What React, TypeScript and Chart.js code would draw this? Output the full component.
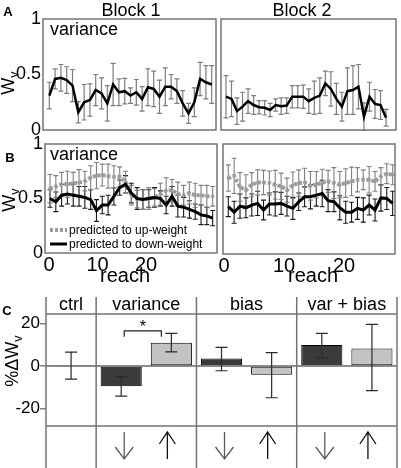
import React, { useEffect, useRef } from 'react';
import { Chart, registerables } from 'chart.js';

Chart.register(...registerables);

const FONT = "Arial, 'Liberation Sans', Helvetica, sans-serif";
const W = 401;
const H = 468;

// ---------- Panel A: variance, W_v per reach ----------
const A1_MEAN = [0.31, 0.46, 0.47, 0.45, 0.40, 0.16, 0.25, 0.27, 0.36, 0.33, 0.24, 0.41, 0.34, 0.35, 0.31, 0.34, 0.28, 0.385, 0.37, 0.30, 0.39, 0.39, 0.35, 0.24, 0.15, 0.25, 0.46, 0.43, 0.41];
const A1_ERR = [0.12, 0.09, 0.12, 0.12, 0.145, 0.095, 0.16, 0.145, 0.14, 0.14, 0.16, 0.19, 0.12, 0.115, 0.07, 0.115, 0.11, 0.165, 0.16, 0.15, 0.17, 0.11, 0.11, 0.115, 0.09, 0.13, 0.15, 0.15, 0.17];
const A2_MEAN = [0.30, 0.28, 0.17, 0.21, 0.26, 0.225, 0.205, 0.20, 0.18, 0.225, 0.215, 0.22, 0.30, 0.30, 0.30, 0.26, 0.29, 0.31, 0.42, 0.37, 0.28, 0.21, 0.35, 0.36, 0.39, 0.12, 0.30, 0.235, 0.225, 0.11];
const A2_ERR = [0.19, 0.16, 0.12, 0.13, 0.11, 0.085, 0.06, 0.065, 0.06, 0.055, 0.075, 0.07, 0.10, 0.10, 0.105, 0.11, 0.15, 0.16, 0.11, 0.155, 0.14, 0.13, 0.21, 0.22, 0.20, 0.125, 0.13, 0.13, 0.13, 0.075];

// ---------- Panel B: predicted up/down weight ----------
const B1_DOWN_MEAN = [0.50, 0.47, 0.53, 0.54, 0.53, 0.52, 0.51, 0.49, 0.39, 0.44, 0.44, 0.52, 0.60, 0.63, 0.55, 0.50, 0.49, 0.50, 0.51, 0.50, 0.44, 0.52, 0.43, 0.42, 0.40, 0.38, 0.35, 0.34, 0.32];
const B1_DOWN_ERR = [0.08, 0.09, 0.10, 0.09, 0.10, 0.09, 0.10, 0.09, 0.10, 0.08, 0.09, 0.08, 0.07, 0.08, 0.09, 0.10, 0.09, 0.08, 0.09, 0.07, 0.08, 0.09, 0.10, 0.09, 0.08, 0.07, 0.09, 0.08, 0.07];
const B1_UP_MEAN = [0.59, 0.61, 0.63, 0.63, 0.64, 0.645, 0.66, 0.69, 0.71, 0.715, 0.705, 0.70, 0.70, 0.65, 0.53, 0.495, 0.49, 0.50, 0.51, 0.54, 0.57, 0.575, 0.54, 0.53, 0.55, 0.53, 0.53, 0.52, 0.52];
const B1_UP_ERR = [0.13, 0.10, 0.11, 0.12, 0.10, 0.12, 0.09, 0.11, 0.12, 0.10, 0.11, 0.10, 0.09, 0.10, 0.09, 0.08, 0.09, 0.10, 0.08, 0.10, 0.12, 0.10, 0.11, 0.09, 0.10, 0.11, 0.09, 0.10, 0.09];
const B2_DOWN_MEAN = [0.43, 0.38, 0.435, 0.42, 0.445, 0.46, 0.40, 0.455, 0.455, 0.46, 0.435, 0.415, 0.475, 0.52, 0.52, 0.535, 0.55, 0.485, 0.475, 0.42, 0.38, 0.38, 0.415, 0.40, 0.445, 0.40, 0.51, 0.505, 0.46];
const B2_DOWN_ERR = [0.09, 0.10, 0.11, 0.09, 0.10, 0.11, 0.09, 0.10, 0.11, 0.10, 0.09, 0.10, 0.08, 0.09, 0.11, 0.10, 0.12, 0.10, 0.09, 0.11, 0.10, 0.09, 0.10, 0.11, 0.09, 0.10, 0.12, 0.10, 0.11];
const B2_UP_MEAN = [0.69, 0.71, 0.61, 0.58, 0.63, 0.65, 0.65, 0.645, 0.63, 0.615, 0.58, 0.625, 0.645, 0.65, 0.62, 0.63, 0.65, 0.66, 0.645, 0.63, 0.645, 0.66, 0.675, 0.675, 0.675, 0.66, 0.705, 0.73, 0.72];
const B2_UP_ERR = [0.12, 0.16, 0.13, 0.14, 0.11, 0.115, 0.11, 0.11, 0.13, 0.12, 0.11, 0.12, 0.12, 0.13, 0.13, 0.12, 0.12, 0.10, 0.14, 0.12, 0.13, 0.13, 0.11, 0.09, 0.12, 0.09, 0.08, 0.09, 0.09];

const W_TICKS = [0, 0.5, 1];
const REACH_TICKS = [0, 10, 20];
const LEGEND_UP = 'predicted to up-weight';
const LEGEND_DOWN = 'predicted to down-weight';

// ---------- Panel C: %ΔW_v ----------
const C_CATEGORIES = ['ctrl', 'variance down', 'variance up', 'bias down', 'bias up', 'var + bias down', 'var + bias up'];
const C_VALUES = [0.5, -9.5, 11.0, 3.6, -4.1, 9.9, 8.3];
const C_ERR_LOW = [-6.1, -14.1, 6.7, -2.2, -14.9, 3.9, -11.6];
const C_ERR_HIGH = [6.6, -5.0, 15.4, 8.8, 6.3, 15.4, 19.6];
const C_SHADE = ['dark', 'dark', 'light', 'dark', 'light', 'dark', 'light'];
const C_GROUPS = ['ctrl', 'variance', 'bias', 'var + bias'];
const C_GROUP_SPANS = [[0, 0], [1, 2], [3, 4], [5, 6]];
const C_ARROWS = ['', 'down', 'up', 'down', 'up', 'down', 'up'];
const C_Y_TICKS = [-20, 0, 20];
const C_SIG_PAIR = [1, 2];

const DARK = '#3b3b3b';
const LIGHT = '#c3c3c3';
const FRAME = '#747474';

// ---------- plugins ----------
const errorBarPlugin = {
  id: 'errbars',
  draw(chart: any) {
    const ctx = chart.ctx;
    const ca = chart.chartArea;
    chart.data.datasets.forEach((ds: any, i: number) => {
      if (!ds.errLow) return;
      const meta = chart.getDatasetMeta(i);
      const ys = chart.scales[meta.yAxisID];
      ctx.save();
      ctx.beginPath();
      ctx.rect(ca.left, ca.top - 1, ca.right - ca.left, ca.bottom - ca.top + 2);
      if (ds.errClip) ctx.clip();
      ctx.strokeStyle = ds.errColor;
      ctx.lineWidth = ds.errWidth;
      const cap = ds.errCap;
      meta.data.forEach((el: any, j: number) => {
        const lo = ds.errLow[j];
        const hi = ds.errHigh[j];
        if (lo == null || hi == null) return;
        const x = el.x;
        const y1 = ys.getPixelForValue(lo);
        const y2 = ys.getPixelForValue(hi);
        ctx.beginPath();
        ctx.moveTo(x, y1);
        ctx.lineTo(x, y2);
        ctx.moveTo(x - cap, y1);
        ctx.lineTo(x + cap, y1);
        ctx.moveTo(x - cap, y2);
        ctx.lineTo(x + cap, y2);
        ctx.stroke();
      });
      ctx.restore();
    });
  },
  beforeDatasetsDraw(chart: any, _a: any, opts: any) {
    if (opts && opts.phase === 'after') return;
    errorBarPlugin.draw(chart);
  },
  afterDatasetsDraw(chart: any, _a: any, opts: any) {
    if (!opts || opts.phase !== 'after') return;
    errorBarPlugin.draw(chart);
  },
};

const framePlugin = {
  id: 'frame',
  afterDraw(chart: any, _a: any, opts: any) {
    if (!opts || !opts.show) return;
    const { ctx, chartArea: ca } = chart;
    ctx.save();
    ctx.strokeStyle = FRAME;
    ctx.lineWidth = 1.5;
    ctx.strokeRect(ca.left, ca.top, ca.right - ca.left, ca.bottom - ca.top);
    ctx.restore();
  },
};

const legendPlugin = {
  id: 'innerLegend',
  afterDraw(chart: any, _a: any, opts: any) {
    if (!opts || !opts.show) return;
    const { ctx, chartArea: ca } = chart;
    const order = [1, 0];
    order.forEach((di, k) => {
      const ds = chart.data.datasets[di];
      const y = ca.bottom - 23 + k * 14;
      ctx.save();
      ctx.strokeStyle = ds.borderColor;
      ctx.lineWidth = ds.borderWidth;
      ctx.setLineDash(ds.borderDash || []);
      ctx.beginPath();
      ctx.moveTo(ca.left + 5, y);
      ctx.lineTo(ca.left + 22, y);
      ctx.stroke();
      ctx.setLineDash([]);
      ctx.fillStyle = '#000';
      ctx.font = `12px ${FONT}`;
      ctx.textAlign = 'left';
      ctx.textBaseline = 'middle';
      ctx.fillText(ds.label, ca.left + 24, y + 0.5);
      ctx.restore();
    });
  },
};

const panelCPlugin = {
  id: 'panelC',
  beforeDatasetsDraw(chart: any) {
    const { ctx, chartArea: ca, scales } = chart;
    const ys = scales.y;
    ctx.save();
    const y0 = ys.getPixelForValue(0);
    ctx.strokeStyle = '#8c8c8c';
    ctx.lineWidth = 2;
    ctx.beginPath();
    ctx.moveTo(ca.left, y0);
    ctx.lineTo(ca.right, y0);
    ctx.stroke();
    ctx.restore();
  },
  afterDraw(chart: any) {
    const { ctx, chartArea: ca, scales } = chart;
    const xs = scales.x;
    const ys = scales.y;
    const top = ca.top - 17;
    ctx.save();
    ctx.strokeStyle = FRAME;
    ctx.lineWidth = 1.5;
    ctx.beginPath();
    ctx.moveTo(ca.left, top);
    ctx.lineTo(ca.left, H);
    ctx.moveTo(ca.right, top);
    ctx.lineTo(ca.right, H);
    C_GROUP_SPANS.forEach(([, e]) => {
      if (e >= C_CATEGORIES.length - 1) return;
      const xd = (xs.getPixelForValue(e) + xs.getPixelForValue(e + 1)) / 2;
      ctx.moveTo(xd, top);
      ctx.lineTo(xd, H);
    });
    ctx.moveTo(ca.left, ca.top);
    ctx.lineTo(ca.right, ca.top);
    ctx.moveTo(ca.left, ca.bottom);
    ctx.lineTo(ca.right, ca.bottom);
    ctx.stroke();

    ctx.fillStyle = '#000';
    ctx.font = `18px ${FONT}`;
    ctx.textAlign = 'center';
    ctx.textBaseline = 'middle';
    C_GROUPS.forEach((g, k) => {
      const [s, e] = C_GROUP_SPANS[k];
      const cx = (xs.getPixelForValue(s) + xs.getPixelForValue(e)) / 2;
      ctx.fillText(g, cx, ca.top - 9);
    });

    C_ARROWS.forEach((d, i) => {
      if (!d) return;
      const x = xs.getPixelForValue(i) + (d === 'down' ? 3 : -4);
      const yt = ca.bottom + 6;
      const yb = ca.bottom + 33;
      ctx.strokeStyle = d === 'down' ? '#5a5a5a' : '#111';
      ctx.lineWidth = 1.3;
      ctx.beginPath();
      ctx.moveTo(x, yt);
      ctx.lineTo(x, yb);
      if (d === 'down') {
        ctx.moveTo(x - 9, yb - 12);
        ctx.lineTo(x, yb);
        ctx.lineTo(x + 9, yb - 12);
      } else {
        ctx.moveTo(x - 8, yt + 12);
        ctx.lineTo(x, yt);
        ctx.lineTo(x + 8, yt + 12);
      }
      ctx.stroke();
    });

    const [a, b] = C_SIG_PAIR;
    const x1 = xs.getPixelForValue(a) + 3;
    const x2 = xs.getPixelForValue(b) - 10;
    const yb1 = ys.getPixelForValue(16.6);
    const yb2 = ys.getPixelForValue(13.8);
    ctx.strokeStyle = '#222';
    ctx.lineWidth = 1.2;
    ctx.beginPath();
    ctx.moveTo(x1, yb2);
    ctx.lineTo(x1, yb1);
    ctx.lineTo(x2, yb1);
    ctx.lineTo(x2, yb2);
    ctx.stroke();
    ctx.fillStyle = '#000';
    ctx.font = `16px ${FONT}`;
    ctx.textAlign = 'center';
    ctx.textBaseline = 'middle';
    ctx.fillText('*', (x1 + x2) / 2, ys.getPixelForValue(19.5) + 3);
    ctx.restore();
  },
};

// ---------- chart builders ----------
function lineDataset(label: string, mean: number[], err: number[], style: any) {
  return {
    label,
    data: mean.map((v, i) => ({ x: i, y: v })),
    errLow: mean.map((v, i) => v - err[i]),
    errHigh: mean.map((v, i) => v + err[i]),
    errClip: true,
    ...style,
  };
}

const blackA = { borderColor: '#000', borderWidth: 2.5, pointRadius: 0, errColor: '#7d7d7d', errWidth: 1.2, errCap: 2.5, tension: 0 };
const blackB = { borderColor: '#000', borderWidth: 3, pointRadius: 0, errColor: '#1a1a1a', errWidth: 1.1, errCap: 2.5, tension: 0 };
const grayB = { borderColor: '#9c9c9c', backgroundColor: '#9c9c9c', borderWidth: 4, borderDash: [3, 2], pointRadius: 1.8, pointBorderWidth: 0, errColor: '#808080', errWidth: 1.1, errCap: 2.5, tension: 0 };

interface PanelSpec {
  box: { left: number; top: number; right: number; bottom: number };
  xMin: number;
  xMax: number;
  yLabels: boolean;
  yAxisWidth: number;
  reach?: { min: number; max: number };
  datasets: any[];
  legend?: boolean;
}

function lineConfig(spec: PanelSpec): any {
  const tickH = 30;
  const scales: any = {
    x: { type: 'linear', min: spec.xMin, max: spec.xMax, display: false },
    y: {
      type: 'linear',
      min: 0,
      max: 1,
      display: spec.yLabels,
      afterFit: (s: any) => { s.width = spec.yAxisWidth; },
      afterBuildTicks: (s: any) => { s.ticks = W_TICKS.map((v) => ({ value: v })); },
      grid: { display: false, drawTicks: false },
      border: { display: false },
      ticks: { font: { family: FONT, size: 18 }, color: '#000', padding: 2, callback: (v: any) => String(v) },
    },
  };
  if (spec.reach) {
    scales.xt = {
      type: 'linear',
      position: 'bottom',
      axis: 'x',
      min: spec.reach.min,
      max: spec.reach.max,
      afterFit: (s: any) => { s.height = tickH; },
      afterBuildTicks: (s: any) => { s.ticks = REACH_TICKS.map((v) => ({ value: v })); },
      grid: { display: false, drawTicks: false },
      border: { display: false },
      ticks: { font: { family: FONT, size: 20 }, color: '#000', padding: 0, maxRotation: 0, autoSkip: false, callback: (v: any) => String(v) },
    };
  }
  const padLeft = spec.yLabels ? spec.box.left - spec.yAxisWidth : spec.box.left;
  const padBottom = H - spec.box.bottom - (spec.reach ? tickH : 0);
  return {
    type: 'line',
    data: { datasets: spec.datasets },
    options: {
      responsive: false,
      animation: false,
      devicePixelRatio: 1,
      layout: { padding: { left: padLeft, right: W - spec.box.right, top: spec.box.top, bottom: padBottom } },
      scales,
      plugins: {
        legend: { display: false },
        tooltip: { enabled: false },
        errbars: { phase: 'before' },
        frame: { show: true },
        innerLegend: { show: !!spec.legend },
      },
    },
    plugins: [errorBarPlugin, framePlugin, legendPlugin],
  };
}

function barConfig(): any {
  return {
    type: 'bar',
    data: {
      labels: C_CATEGORIES,
      datasets: [
        {
          label: '%ΔWv',
          data: C_VALUES,
          backgroundColor: C_SHADE.map((s) => (s === 'dark' ? DARK : LIGHT)),
          borderColor: '#000',
          borderWidth: 1,
          borderSkipped: false,
          barPercentage: 0.82,
          categoryPercentage: 1,
          errLow: C_ERR_LOW,
          errHigh: C_ERR_HIGH,
          errClip: false,
          errColor: '#2a2a2a',
          errWidth: 1.2,
          errCap: 6,
        },
      ],
    },
    options: {
      responsive: false,
      animation: false,
      devicePixelRatio: 1,
      layout: { padding: { left: 0, right: 4, top: 314, bottom: 42 } },
      scales: {
        x: { type: 'category', display: false },
        y: {
          type: 'linear',
          min: -28.2,
          max: 24.5,
          afterFit: (s: any) => { s.width = 46; },
          afterBuildTicks: (s: any) => { s.ticks = C_Y_TICKS.map((v) => ({ value: v })); },
          grid: { drawOnChartArea: false, drawTicks: true, tickLength: 6, color: '#808080', tickColor: '#808080', lineWidth: 1.5 },
          border: { display: false },
          ticks: { font: { family: FONT, size: 17 }, color: '#000', padding: 0, callback: (v: any) => String(v) },
        },
      },
      plugins: {
        legend: { display: false },
        tooltip: { enabled: false },
        errbars: { phase: 'after' },
      },
    },
    plugins: [errorBarPlugin, panelCPlugin],
  };
}

const PANELS: Array<() => any> = [
  () => lineConfig({ box: { left: 43, top: 19, right: 216, bottom: 130 }, xMin: -1.09, xMax: 28.74, yLabels: true, yAxisWidth: 43, datasets: [lineDataset('variance', A1_MEAN, A1_ERR, blackA)] }),
  () => lineConfig({ box: { left: 221, top: 19, right: 396, bottom: 130 }, xMin: -0.9, xMax: 30.8, yLabels: false, yAxisWidth: 0, datasets: [lineDataset('variance', A2_MEAN, A2_ERR, blackA)] }),
  () => lineConfig({
    box: { left: 45, top: 144, right: 217, bottom: 253 }, xMin: -0.86, xMax: 28.75, yLabels: true, yAxisWidth: 45,
    reach: { min: -0.825, max: 34.64 }, legend: true,
    datasets: [lineDataset(LEGEND_DOWN, B1_DOWN_MEAN, B1_DOWN_ERR, blackB), lineDataset(LEGEND_UP, B1_UP_MEAN, B1_UP_ERR, grayB)],
  }),
  () => lineConfig({
    box: { left: 223, top: 144, right: 395, bottom: 254 }, xMin: -0.9, xMax: 28.4, yLabels: false, yAxisWidth: 0,
    reach: { min: -0.167, max: 28.5 },
    datasets: [lineDataset(LEGEND_DOWN, B2_DOWN_MEAN, B2_DOWN_ERR, blackB), lineDataset(LEGEND_UP, B2_UP_MEAN, B2_UP_ERR, grayB)],
  }),
  () => barConfig(),
];

function ChartCanvas({ make }: { make: () => any }) {
  const ref = useRef<HTMLCanvasElement>(null);
  useEffect(() => {
    const chart = new Chart(ref.current as HTMLCanvasElement, make());
    return () => chart.destroy();
  }, []);
  return (
    <canvas
      ref={ref}
      width={W}
      height={H}
      style={{ position: 'absolute', left: 0, top: 0, width: W, height: H }}
    />
  );
}

function Text({ x, y, children, size = 18, bold = false, rotate = false, left = false }: any) {
  const tr = left ? 'translate(0,-50%)' : `translate(-50%,-50%)${rotate ? ' rotate(-90deg)' : ''}`;
  return (
    <div
      style={{
        position: 'absolute',
        left: x,
        top: y,
        transform: tr,
        fontFamily: FONT,
        fontSize: size,
        fontWeight: bold ? 'bold' : 'normal',
        lineHeight: 1,
        whiteSpace: 'nowrap',
        color: '#000',
      }}
    >
      {children}
    </div>
  );
}

const Sub = ({ children }: any) => (
  <span style={{ fontSize: '0.7em', position: 'relative', top: '0.3em' }}>{children}</span>
);

export default function App() {
  useEffect(() => {
    document.body.style.margin = '0';
  }, []);
  return (
    <div style={{ position: 'absolute', left: 0, top: 0, width: W, height: H, overflow: 'hidden', background: '#fff' }}>
      {PANELS.map((make, i) => (
        <ChartCanvas key={i} make={make} />
      ))}
      <Text x={8} y={11} size={13} bold>A</Text>
      <Text x={131} y={10}>Block 1</Text>
      <Text x={302} y={10}>Block 2</Text>
      <Text x={50} y={29} left>variance</Text>
      <Text x={8} y={83} rotate>W<Sub>v</Sub></Text>
      <Text x={10} y={157} size={13} bold>B</Text>
      <Text x={50} y={154} left>variance</Text>
      <Text x={9} y={200} rotate>W<Sub>v</Sub></Text>
      <Text x={125} y={275} size={20}>reach</Text>
      <Text x={313} y={275} size={20}>reach</Text>
      <Text x={7} y={310} size={13} bold>C</Text>
      <Text x={12} y={361} rotate>%ΔW<Sub>v</Sub></Text>
    </div>
  );
}
